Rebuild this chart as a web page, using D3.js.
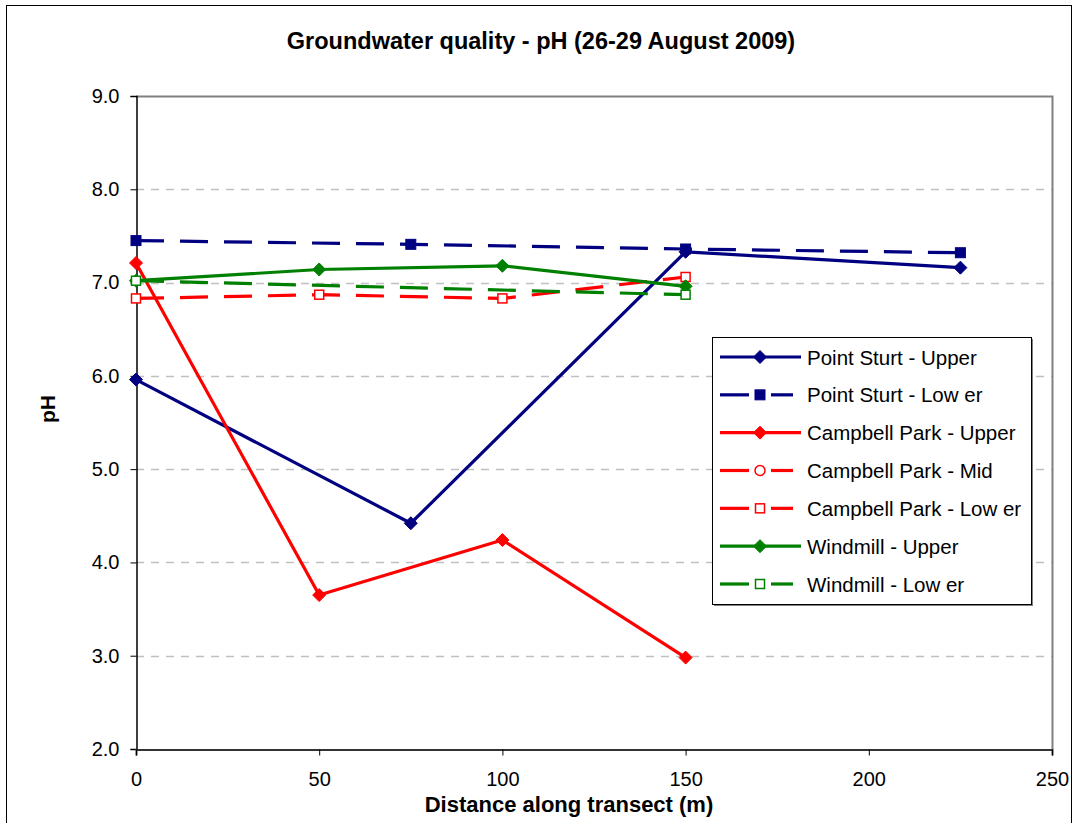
<!DOCTYPE html>
<html>
<head>
<meta charset="utf-8">
<script src="https://cdn.jsdelivr.net/npm/d3@7"></script>
<style>
  html, body { margin: 0; padding: 0; background: #fff; }
  svg { display: block; font-family: "Liberation Sans", Arial, sans-serif; }
</style>
</head>
<body>
<svg id="chart" width="1074" height="823"></svg>
<script>
// ---- data ----
const chartTitle = "Groundwater quality - pH (26-29 August 2009)";
const xTitle = "Distance along transect (m)";
const yTitle = "pH";
const xTicks = [0, 50, 100, 150, 200, 250];
const yTicks = [2, 3, 4, 5, 6, 7, 8, 9];

const pointSturtUpperX = [0, 75, 150, 225];
const pointSturtUpperY = [5.96, 4.42, 7.33, 7.16];
const pointSturtLowerX = [0, 75, 150, 225];
const pointSturtLowerY = [7.45, 7.41, 7.36, 7.32];
const campbellUpperX = [0, 50, 100, 150];
const campbellUpperY = [7.21, 3.65, 4.24, 2.98];
const campbellMidX = [];
const campbellMidY = [];
const campbellLowerX = [0, 50, 100, 150];
const campbellLowerY = [6.83, 6.87, 6.83, 7.06];
const windmillUpperX = [0, 50, 100, 150];
const windmillUpperY = [7.02, 7.14, 7.18, 6.96];
const windmillLowerX = [0, 150];
const windmillLowerY = [7.02, 6.87];

const seriesNames = [
  "Point Sturt - Upper", "Point Sturt - Low er", "Campbell Park - Upper",
  "Campbell Park - Mid", "Campbell Park - Low er", "Windmill - Upper", "Windmill - Low er"
];

// ---- styles ----
const navy = "#000080", red = "#ff0000", green = "#008000";
const series = [
  { name: seriesNames[0], xs: pointSturtUpperX, ys: pointSturtUpperY, color: navy, dash: null, marker: "diamond", fill: navy },
  { name: seriesNames[1], xs: pointSturtLowerX, ys: pointSturtLowerY, color: navy, dash: "28,16", marker: "square", fill: navy },
  { name: seriesNames[2], xs: campbellUpperX, ys: campbellUpperY, color: red, dash: null, marker: "diamond", fill: red },
  { name: seriesNames[3], xs: campbellMidX, ys: campbellMidY, color: red, dash: "28,16", marker: "circle", fill: "#fff" },
  { name: seriesNames[4], xs: campbellLowerX, ys: campbellLowerY, color: red, dash: "28,16", marker: "square", fill: "#fff" },
  { name: seriesNames[5], xs: windmillUpperX, ys: windmillUpperY, color: green, dash: null, marker: "diamond", fill: green },
  { name: seriesNames[6], xs: windmillLowerX, ys: windmillLowerY, color: green, dash: "28,16", marker: "square", fill: "#fff" }
];

const svg = d3.select("#chart");
const plot = { left: 136, top: 96, right: 1052, bottom: 749 };

// outer frame
svg.append("rect").attr("x", 6.5).attr("y", 5.5).attr("width", 1065).attr("height", 830)
  .attr("fill", "#fff").attr("stroke", "#000").attr("stroke-width", 1);

const x = d3.scaleLinear().domain([0, 250]).range([plot.left, plot.right]);
const y = d3.scaleLinear().domain([2, 9]).range([plot.bottom, plot.top]);

// gridlines
svg.append("g").selectAll("line").data(yTicks.filter(t => t > 2 && t < 9)).join("line")
  .attr("x1", plot.left).attr("x2", plot.right)
  .attr("y1", d => Math.round(y(d)) + 0.5).attr("y2", d => Math.round(y(d)) + 0.5)
  .attr("stroke", "#c0c0c0").attr("stroke-width", 1.5).attr("stroke-dasharray", "8,7");

// plot border top and right
svg.append("path")
  .attr("d", `M${plot.left},${plot.top + 0.5}H${plot.right + 0.5}V${plot.bottom}`)
  .attr("fill", "none").attr("stroke", "#808080").attr("stroke-width", 2);

// axes
const yAxis = d3.axisLeft(y).tickValues(yTicks).tickSize(6).tickPadding(11).tickFormat(d3.format(".1f"));
const gy = svg.append("g").attr("transform", `translate(${plot.left + 0.5},0)`).call(yAxis);
gy.select(".domain").attr("stroke", "#000").attr("stroke-width", 1.5);
gy.selectAll(".tick line").attr("stroke", "#000");
gy.selectAll("text").attr("font-size", 20).attr("fill", "#000").attr("font-family", "Liberation Sans, Arial, sans-serif");

const xAxis = d3.axisBottom(x).tickValues(xTicks).tickSize(6).tickPadding(16).tickFormat(d3.format("d"));
const gx = svg.append("g").attr("transform", `translate(0,${plot.bottom + 0.5})`).call(xAxis);
gx.select(".domain").attr("stroke", "#333").attr("stroke-width", 2);
gx.selectAll(".tick line").attr("stroke", "#000");
gx.selectAll("text").attr("font-size", 20).attr("fill", "#000")
  .attr("font-family", "Liberation Sans, Arial, sans-serif");

// titles
svg.append("text").attr("x", 541).attr("y", 49).attr("text-anchor", "middle")
  .attr("font-size", 23.5).attr("font-weight", "bold").text(chartTitle);
svg.append("text").attr("x", 569).attr("y", 812).attr("text-anchor", "middle")
  .attr("font-size", 22).attr("font-weight", "bold").text(xTitle);
svg.append("text").attr("transform", "translate(55,409) rotate(-90)").attr("text-anchor", "middle")
  .attr("font-size", 21).attr("font-weight", "bold").text(yTitle);

// markers
function drawMarker(g, type, cx, cy, stroke, fill) {
  if (type === "diamond") {
    const r = 6.5;
    g.append("path").attr("d", `M${cx},${cy - r}L${cx + r},${cy}L${cx},${cy + r}L${cx - r},${cy}Z`)
      .attr("fill", fill).attr("stroke", stroke).attr("stroke-width", 1);
  } else if (type === "square") {
    const s = fill === "#fff" ? 9 : 10;
    g.append("rect").attr("x", cx - s / 2).attr("y", cy - s / 2).attr("width", s).attr("height", s)
      .attr("fill", fill).attr("stroke", stroke).attr("stroke-width", fill === "#fff" ? 1.5 : 1);
  } else if (type === "circle") {
    g.append("circle").attr("cx", cx).attr("cy", cy).attr("r", 5)
      .attr("fill", fill).attr("stroke", stroke).attr("stroke-width", 1.5);
  }
}

const line = d3.line().x(d => x(d[0])).y(d => y(d[1]));
const dataG = svg.append("g");
series.forEach(s => {
  const pts = s.xs.map((v, i) => [v, s.ys[i]]);
  if (pts.length < 1) return;
  dataG.append("path").datum(pts).attr("d", line)
    .attr("fill", "none").attr("stroke", s.color).attr("stroke-width", 3.2)
    .attr("stroke-dasharray", s.dash).attr("stroke-linejoin", "round");
});
series.forEach(s => {
  const g = dataG.append("g");
  s.xs.forEach((v, i) => drawMarker(g, s.marker, x(v), y(s.ys[i]), s.color, s.fill));
});

// legend
const leg = { x: 712, y: 337, w: 319, h: 267 };
svg.append("rect").attr("x", leg.x + 2).attr("y", leg.y + 2).attr("width", leg.w).attr("height", leg.h)
  .attr("fill", "#808080");
svg.append("rect").attr("x", leg.x + 0.5).attr("y", leg.y + 0.5).attr("width", leg.w).attr("height", leg.h)
  .attr("fill", "#fff").attr("stroke", "#000").attr("stroke-width", 1);
const rowY = d3.scaleLinear().domain([0, 6]).range([leg.y + 20, leg.y + 247]);
series.forEach((s, i) => {
  const cy = rowY(i);
  const g = svg.append("g");
  if (s.dash) {
    g.append("line").attr("x1", 720).attr("x2", 749).attr("y1", cy).attr("y2", cy)
      .attr("stroke", s.color).attr("stroke-width", 3.2);
    g.append("line").attr("x1", 771).attr("x2", 793).attr("y1", cy).attr("y2", cy)
      .attr("stroke", s.color).attr("stroke-width", 3.2);
  } else {
    g.append("line").attr("x1", 720).attr("x2", 801).attr("y1", cy).attr("y2", cy)
      .attr("stroke", s.color).attr("stroke-width", 3.2);
  }
  drawMarker(g, s.marker, 760, cy, s.color, s.fill);
  g.append("text").attr("x", 807).attr("y", cy + 7.5).attr("font-size", 20.5).attr("fill", "#000")
    .text(s.name);
});
</script>
</body>
</html>
